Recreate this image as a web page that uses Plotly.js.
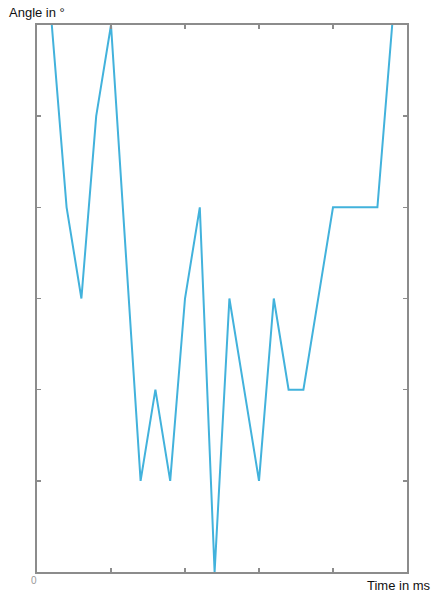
<!DOCTYPE html>
<html>
<head>
<meta charset="utf-8">
<script src="https://cdn.plot.ly/plotly-3.0.1.min.js"></script>
<style>html,body{margin:0;padding:0;background:#fff;}#chart{width:438px;height:593px;}</style>
</head>
<body>
<div id="chart"></div>
<script>
const timeSteps = [1,2,3,4,5,6,7,8,9,10,11,12,13,14,15,16,17,18,19,20,21,22,23,24];
const angles = [6,4,3,5,6,3.5,1,2,1,3,4,0,3,2,1,3,2,2,3,4,4,4,4,6];
const xTicks = [5,10,15,20];
const yTicks = [1,2,3,4,5];

const trace = {
  x: timeSteps, y: angles, mode: 'lines', type: 'scatter',
  line: {color: '#42b2dc', width: 2},
  hoverinfo: 'skip', cliponaxis: true
};
const axisCommon = {
  showgrid: false, zeroline: false, showline: true, linecolor: '#8c8c8c', linewidth: 2,
  mirror: 'ticks', ticks: 'inside', ticklen: 4, tickwidth: 1.5, tickcolor: '#8c8c8c',
  showticklabels: false, fixedrange: true
};
const layout = {
  width: 438, height: 593,
  margin: {l: 37, r: 31, t: 25, b: 21},
  paper_bgcolor: '#fff', plot_bgcolor: '#fff',
  showlegend: false,
  xaxis: Object.assign({}, axisCommon, {range: [0, 25], tickvals: xTicks}),
  yaxis: Object.assign({}, axisCommon, {range: [0, 6], tickvals: yTicks}),
  font: {family: 'Liberation Sans, Arial, sans-serif', size: 13, color: '#111'},
  annotations: [
    {text: 'Angle in °', xref: 'paper', yref: 'paper', x: -0.08, y: 1.0, yshift: 3,
     xanchor: 'left', yanchor: 'bottom', showarrow: false, font: {size: 13, color: '#111'}},
    {text: 'Time in ms', xref: 'paper', yref: 'paper', x: 1.07, y: 0, yshift: -4,
     xanchor: 'right', yanchor: 'top', showarrow: false, font: {size: 13, color: '#111'}},
    {text: '0', xref: 'paper', yref: 'paper', x: 0, y: 0, xshift: -3, yshift: -1,
     xanchor: 'center', yanchor: 'top', showarrow: false, font: {size: 10, color: '#999'}}
  ]
};
Plotly.newPlot('chart', [trace], layout, {staticPlot: true, displayModeBar: false});
</script>
</body>
</html>
